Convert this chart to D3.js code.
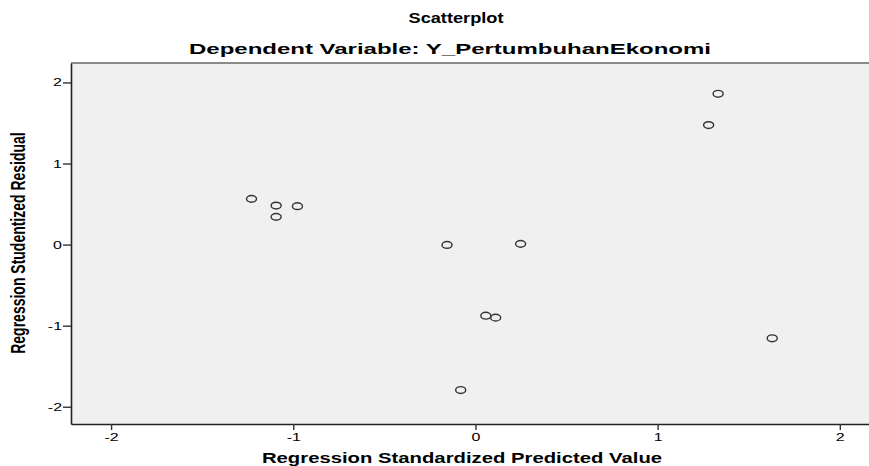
<!DOCTYPE html>
<html>
<head>
<meta charset="utf-8">
<script src="https://cdn.jsdelivr.net/npm/d3@7"></script>
<style>
  body { margin: 0; background: #fff; }
  text { font-family: "Liberation Sans", Arial, sans-serif; fill: #000; }
</style>
</head>
<body>
<svg id="scatter" width="869" height="466"></svg>
<script>
// regression standardized predicted value (x) vs studentized residual (y)
const predicted = [-1.229, -1.094, -0.977, -1.094, -0.156, 0.248, 0.057, 0.111, -0.081, 1.332, 1.280, 1.629];
const residual  = [0.564, 0.481, 0.474, 0.342, -0.004, 0.009, -0.877, -0.901, -1.794, 1.860, 1.474, -1.156];
const xTicks = [-2, -1, 0, 1, 2];
const yTicks = [-2, -1, 0, 1, 2];

const svg    = d3.select("#scatter"),
      stretch = 1.45,
      margin = {top: 63, right: -20, bottom: 42, left: 71},
      width  = +svg.attr("width")  - margin.left - margin.right,
      height = +svg.attr("height") - margin.top  - margin.bottom,
      x      = d3.scaleLinear().domain([-2.22, 2.27]).range([0, width]),
      y      = d3.scaleLinear().domain([-2.213, 2.24]).range([height, 0]),
      g      = svg.append("g")
                  .attr("transform", `translate(${margin.left},${margin.top})`);

g.append("rect")
    .attr("width", width)
    .attr("height", height)
    .attr("fill", "#f0f0f0");

// top frame line
g.append("line")
    .attr("x1", 0).attr("x2", width)
    .attr("y1", 0).attr("y2", 0)
    .attr("stroke", "#8a8a8a")
    .attr("stroke-width", 2);

const xAxis = g.append("g")
    .attr("transform", `translate(0,${height})`)
    .call(d3.axisBottom(x).tickValues(xTicks).tickFormat(d => String(d)).tickSize(6).tickSizeOuter(0));

const yAxis = g.append("g")
    .call(d3.axisLeft(y).tickValues(yTicks).tickFormat(d => String(d)).tickSize(8).tickSizeOuter(0));

[xAxis, yAxis].forEach(a => {
  a.select(".domain").attr("stroke", "#222").attr("stroke-width", 1.6);
  a.selectAll(".tick line").attr("stroke", "#333").attr("stroke-width", 1.4);
  a.selectAll(".tick text")
      .style("font-size", "11px")
      .attr("fill", "#111");
});
xAxis.selectAll(".tick text")
    .attr("y", 9)
    .attr("transform", `scale(${stretch},1)`);
yAxis.selectAll(".tick text")
    .attr("x", 0)
    .attr("dy", "0.32em")
    .attr("transform", `translate(-9,0) scale(${stretch},1)`);

g.selectAll(".dot")
  .data(predicted.map((p, i) => ({p: p, r: residual[i]})))
  .enter().append("ellipse")
    .attr("class", "dot")
    .attr("cx", d => x(d.p))
    .attr("cy", d => y(d.r))
    .attr("rx", 5)
    .attr("ry", 3.4)
    .attr("fill", "none")
    .attr("stroke", "#333")
    .attr("stroke-width", 1.4);

// titles
svg.append("text")
    .attr("transform", "translate(456,23) scale(1.3,1)")
    .attr("text-anchor", "middle")
    .style("font-size", "14px")
    .style("font-weight", "bold")
    .text("Scatterplot");

svg.append("text")
    .attr("transform", "translate(450,54) scale(1.6,1)")
    .attr("text-anchor", "middle")
    .style("font-size", "15px")
    .style("font-weight", "bold")
    .text("Dependent Variable: Y_PertumbuhanEkonomi");

svg.append("text")
    .attr("transform", `translate(462,463) scale(${stretch},1)`)
    .attr("text-anchor", "middle")
    .style("font-size", "14px")
    .style("font-weight", "bold")
    .text("Regression Standardized Predicted Value");

svg.append("text")
    .attr("transform", `translate(25,243) scale(${stretch},1) rotate(-90)`)
    .attr("text-anchor", "middle")
    .style("font-size", "14px")
    .style("font-weight", "bold")
    .text("Regression Studentized Residual");
</script>
</body>
</html>
